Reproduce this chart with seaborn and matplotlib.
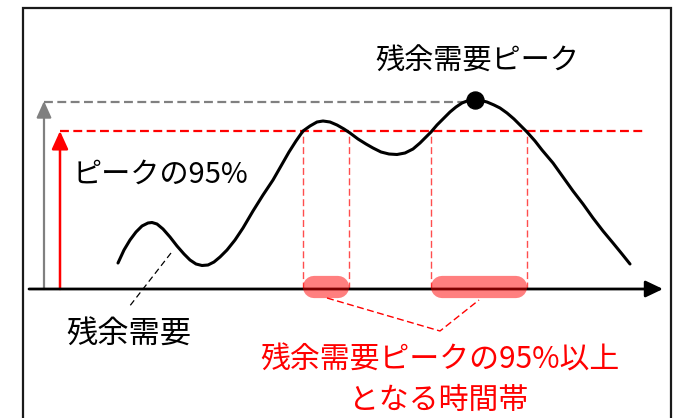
import numpy as np
import pandas as pd
import matplotlib
matplotlib.use("Agg")
import matplotlib.pyplot as plt
import seaborn as sns

# ---- data (schematic; x = time, y = residual demand) ----
time = [118, 124, 130, 136, 142, 148, 152, 157, 163, 170, 177, 184, 190, 196, 202,
        208, 214, 220, 227, 235, 243, 253, 263, 273, 281, 289, 296, 303, 310, 317,
        323, 330, 337, 344, 350, 358, 366, 373, 381, 389, 397, 405, 413, 420, 426,
        431, 437, 444, 450, 456, 462, 467, 471, 475, 481, 487, 494, 500, 507, 514,
        520, 527, 535, 542, 553, 563, 573, 583, 593, 603, 613, 622, 630]
demand = [26, 39, 49, 57, 63, 66, 66.5, 65, 60, 52, 43, 35, 29, 25, 23.5,
          24, 27, 32, 39, 49, 61, 78, 94, 109, 123, 137, 148, 158, 163, 167,
          168, 167, 164, 160, 156, 150, 145, 141, 137, 135, 134.5, 136, 140, 146, 152,
          157, 164, 171, 177, 182, 186, 188, 189, 189, 188.5, 187, 184, 181, 176, 170,
          164, 157, 148, 139, 126, 112, 98, 85, 71, 58, 46, 35, 25]
peak_time = 475
peak_value = 189
peak_line = 187
threshold = 158
bands = [(303, 349), (431, 527)]

label_peak = "残余需要ピーク"
label_95 = "ピークの95%"
label_demand = "残余需要"
label_band_1 = "残余需要ピークの95%以上"
label_band_2 = "となる時間帯"

# ---- styling ----
sns.set_style("white")
plt.rcParams['font.family'] = ['Noto Sans CJK JP', 'DejaVu Sans']

fig = plt.figure(figsize=(6.75, 4.18), dpi=100)
ax = fig.add_axes([0, 0, 1, 1])
ax.set_xlim(0, 675)
ax.set_ylim(-129, 289)
ax.axis("off")

RED = "#ff0000"
LRED = "#ff4d4d"

# frame (open at bottom)
ax.plot([23, 23, 671, 671], [-140, 281, 281, -140], color="#1a1a1a", lw=1.6,
        solid_joinstyle="miter", clip_on=False)

# gray dashed peak line + arrow
ax.plot([44, peak_time - 8], [peak_line, peak_line], color="#808080", lw=1.6,
        linestyle=(0, (4, 2)))
ax.annotate("", xy=(44, peak_line + 1), xytext=(44, 0),
            arrowprops=dict(arrowstyle="-|>,head_length=1.0,head_width=0.45",
                            color="#808080", lw=1.6, shrinkA=0, shrinkB=0,
                            mutation_scale=10))

# red threshold line + arrow
ax.plot([60, 643], [threshold, threshold], color=RED, lw=1.6,
        linestyle=(0, (4, 2)))
ax.annotate("", xy=(60, threshold), xytext=(60, 0),
            arrowprops=dict(arrowstyle="-|>,head_length=1.1,head_width=0.5",
                            color=RED, lw=1.8, shrinkA=0, shrinkB=0,
                            mutation_scale=10))

# vertical thin dashed lines at crossings
for a, b in bands:
    for xv in (a, b):
        ax.plot([xv, xv], [0, threshold], color=LRED, lw=1.0,
                linestyle=(0, (5, 2.5)))

# x axis with arrow
ax.annotate("", xy=(663, 0), xytext=(29, 0),
            arrowprops=dict(arrowstyle="-|>,head_length=1.05,head_width=0.5",
                            color="black", lw=2.0, shrinkA=0, shrinkB=0,
                            mutation_scale=10))

# curve
df = pd.DataFrame({"time": time, "demand": demand})
sns.lineplot(data=df, x="time", y="demand", ax=ax, color="black", lw=2.2,
             sort=False, legend=False)
ax.set_xlabel("")
ax.set_ylabel("")
ax.axis("off")

# peak dot
sns.scatterplot(x=[peak_time], y=[peak_value], ax=ax, color="black", s=150,
                edgecolor="black", zorder=5, legend=False)
ax.axis("off")

# pink bands
for a, b in bands:
    ax.plot([a + 11, b - 11], [2, 2], color=RED, alpha=0.5, lw=16,
            solid_capstyle="round", zorder=6)

# connector lines
ax.plot([327, 440, 479], [-9, -42, -11], color=RED, lw=1.0,
        linestyle=(0, (5, 2.5)))
# leader for residual demand
ax.plot([171, 129], [36, -18], color="black", lw=0.9, linestyle=(0, (5, 3)))

# texts
ax.text(477, 227, label_peak, ha="center", va="center", fontsize=21, color="black")
ax.text(73, 114, label_95, ha="left", va="center", fontsize=21, color="black")
ax.text(129, -46, label_demand, ha="center", va="center", fontsize=22.5, color="black")
ax.text(440, -71, label_band_1, ha="center", va="center", fontsize=21.5, color=RED)
ax.text(439, -111, label_band_2, ha="center", va="center", fontsize=21.5, color=RED)

fig.savefig("out.png", dpi=100)
